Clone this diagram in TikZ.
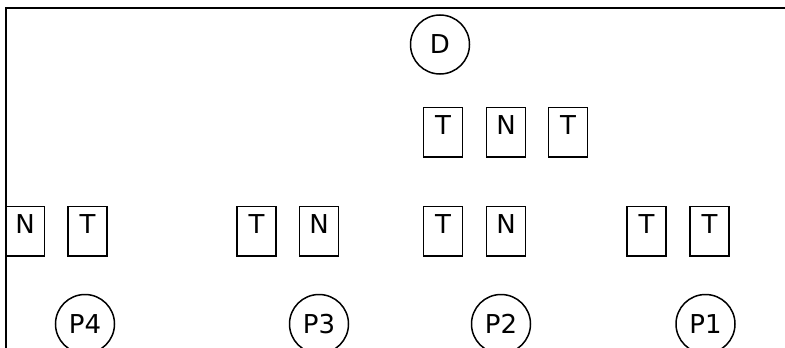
\documentclass[tikz,border=0pt]{standalone}
\usepackage{fontspec}
\setmainfont{DejaVu Sans}
\usepackage{tikz}

\begin{document}
\begin{tikzpicture}[x=1pt,y=-1pt,line width=1.5pt,
  font=\fontsize{26}{30}\selectfont,
  cell/.style={draw,rectangle,inner sep=0pt,minimum width=39pt,
    text height=27pt,text depth=22.5pt},
  site/.style={draw,circle,inner sep=0pt,minimum size=59pt}]
  \clip (0,0) rectangle (785,348);
  \draw (785,8) -- (6,8) -- (6,348);
  \node[site] (d) at (440,44.5) {D};
  \node[cell] (dt1) at (443,132) {T};
  \node[cell] (dn) at (506,132) {N};
  \node[cell] (dt2) at (568,132) {T};
  \node[cell] (n4) at (25,231) {N};
  \node[cell] (t4) at (87.5,231) {T};
  \node[cell] (t3) at (256.5,231) {T};
  \node[cell] (n3) at (319,231) {N};
  \node[cell] (t2) at (443,231) {T};
  \node[cell] (n2) at (506,231) {N};
  \node[cell] (t1a) at (646.5,231) {T};
  \node[cell] (t1b) at (709.5,231) {T};
  \node[site] (p4) at (85,324) {P4};
  \node[site] (p3) at (319,324) {P3};
  \node[site] (p2) at (501,324) {P2};
  \node[site] (p1) at (705.5,324) {P1};
\end{tikzpicture}
\end{document}
